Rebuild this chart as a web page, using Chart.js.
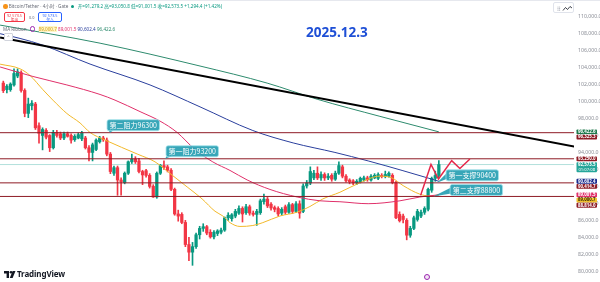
<!DOCTYPE html>
<html>
<head>
<meta charset="utf-8">
<script src="https://cdn.jsdelivr.net/npm/chart.js@4.4.1/dist/chart.umd.min.js"></script>
<style>
  html, body { margin: 0; padding: 0; background: #fff; }
  #wrap { position: relative; width: 600px; height: 282px; overflow: hidden;
          font-family: "Noto Sans", "Noto Sans CJK SC", sans-serif; }
  #c { position: absolute; left: 0; top: 0; }
  .t { position: absolute; white-space: nowrap; line-height: 1; }
  .btn { position: absolute; box-sizing: border-box; border-radius: 2px; background: #fff;
         text-align: center; font-size: 3.8px; line-height: 4.4px; padding-top: 0.6px; }
</style>
</head>
<body>
<div id="wrap">
  <canvas id="c" width="600" height="282"></canvas>

  <div style="position:absolute;left:0;top:0;width:600px;height:1px;background:#e6e8ee"></div>

  <div class="t" style="left:3px;top:3.5px;font-size:4.6px;color:#6a6d78">
    <span style="display:inline-block;width:4.5px;height:4.5px;border-radius:50%;background:#f7931a;vertical-align:-1px"></span>
    Bitcoin/Tether · 4小时 · Gate
    <span style="display:inline-block;width:3px;height:3px;border-radius:50%;background:#089981;margin:0 2px;vertical-align:0"></span>
    <span style="color:#089981">开=91,279.2 高=93,050.8 低=91,001.5 收=92,573.5 +1,294.4 (+1.42%)</span>
  </div>

  <div class="btn" style="left:4px;top:12px;width:21px;height:10px;border:0.7px solid #f23645;color:#f23645">92,573.5<br>卖出</div>
  <div class="t" style="left:29px;top:15.5px;font-size:3.8px;color:#6a6d78">0.0</div>
  <div class="btn" style="left:38px;top:12px;width:24px;height:10px;border:0.7px solid #2962ff;color:#2962ff">92,573.5<br>买入</div>

  <div class="t" style="left:3px;top:26px;font-size:4.6px;color:#6a6d78">MA Ribbon
    <span style="display:inline-block;width:3.6px;height:3.6px;border-radius:50%;border:0.8px solid #9c27b0;margin:0 2px;vertical-align:-0.5px"></span>
    <span style="color:#d4a017;background:#fff6c8">89,000.7</span>
    <span style="color:#e0306a">89,001.5</span>
    <span style="color:#2a3f9d">90,602.4</span>
    <span style="color:#2e8b6e">96,422.6</span>
  </div>
  <div style="position:absolute;left:4px;top:33px;width:7px;height:6px;border:0.6px solid #d1d4dc;border-radius:1px;background:#fff;font-size:4px;line-height:6px;text-align:center;color:#555">^</div>

  <div class="t" style="left:306px;top:26px;font-size:13.5px;font-weight:700;color:#1e4fd6">2025.12.3</div>

  <div style="position:absolute;left:553px;top:2px;width:21px;height:11px;box-sizing:border-box;border:0.6px solid #e0e3eb;border-radius:2px;background:#fff">
    <svg width="21" height="11" style="position:absolute;left:0;top:0">
      <g fill="#b2b5be"><circle cx="4" cy="4" r="0.6"/><circle cx="5.6" cy="4" r="0.6"/><circle cx="4" cy="5.6" r="0.6"/><circle cx="5.6" cy="5.6" r="0.6"/><circle cx="4" cy="7.2" r="0.6"/><circle cx="5.6" cy="7.2" r="0.6"/></g>
      <polyline points="9,7.5 11.5,4.5 13.5,6.5 16,3.5 18,5" fill="none" stroke="#131722" stroke-width="0.8"/>
    </svg>
  </div>

  <div style="position:absolute;left:4px;top:270px">
    <svg width="12" height="8" style="position:absolute;left:0;top:0.5px">
      <path d="M0 0 H5 V7 H2.6 V2.4 H0 Z" fill="#131722"/>
      <circle cx="7" cy="1.3" r="1.3" fill="#131722"/>
      <path d="M8.6 0 H11.5 L8.6 7 H5.8 Z" fill="#131722"/>
    </svg>
    <div class="t" style="left:13px;top:0;font-size:8px;font-weight:700;color:#131722;letter-spacing:-0.1px">TradingView</div>
  </div>

  <div style="position:absolute;left:424px;top:274px;width:6px;height:6px;box-sizing:border-box;border-radius:50%;border:0.8px solid #9c27b0;background:#f3e5f5"></div>
</div>

<script>
// ---- data ----
const opens = [
  102170, 101400, 101400, 101950, 103000, 103400, 101300, 98600, 99500, 99700,
  97150, 96000, 96600, 96000, 94550, 96350, 96200, 95700, 96200, 96000,
  95500, 95700, 95600, 95700, 94550, 94000, 94350, 95250, 95700, 95450,
  93800, 91550, 92200, 90750, 90450, 91550, 92900, 93200, 93000, 91750,
  91850, 91300, 90000, 88750, 91550, 92450, 92300, 91900, 89650, 86750,
  86700, 85750, 83150, 82250, 82900, 84300, 85050, 85250, 84600, 84050,
  84450, 84600, 84850, 86300, 86200, 86500, 86850, 87400, 86900, 87600,
  86850, 86700, 86900, 88200, 88500, 87900, 87500, 87400, 86850, 87600,
  86950, 87850, 87050, 87950, 87050, 90050, 90400, 91000, 91550, 91000,
  91400, 91000, 91300, 90850, 91550, 92300, 91200, 90750, 90650, 90400,
  90550, 90750, 91000, 90750, 91000, 90950, 91300, 91150, 91200, 91300,
  90450, 86700, 86500, 86000, 84250, 85050, 86100, 86500, 86950, 87300,
  89550, 90950, 91279.2
];
const highs = [
  102400, 102000, 102200, 103850, 103850, 103600, 101500, 100400, 100100, 99900,
  97500, 96900, 96800, 96100, 96600, 96600, 96400, 96400, 96400, 96200,
  96100, 96300, 96500, 95900, 94800, 95100, 95600, 95900, 95900, 95700,
  94000, 92400, 92400, 91000, 91700, 93000, 93800, 93500, 93300, 91900,
  92000, 91500, 90200, 91700, 92600, 93000, 92500, 92100, 89800, 87200,
  86900, 86000, 84000, 83400, 84500, 85300, 85600, 85400, 84900, 84800,
  84900, 85100, 86400, 86900, 86800, 87300, 87700, 87600, 87900, 87800,
  87100, 87300, 88500, 89100, 88700, 88100, 87700, 87600, 87500, 87800,
  88100, 88000, 88200, 88300, 90300, 90700, 92300, 91900, 92300, 91700,
  91600, 91500, 91500, 91800, 92900, 92500, 91400, 90900, 90800, 90800,
  91100, 91200, 91200, 91400, 91500, 91600, 91500, 91800, 91700, 91500,
  90600, 87000, 86750, 86200, 85300, 86500, 87300, 87200, 87600, 89800,
  91100, 91800, 93050.8
];
const lows = [
  101050, 101000, 101200, 101800, 102800, 101100, 98200, 98100, 99000, 96700,
  95100, 94300, 95600, 94100, 94400, 95800, 95500, 95500, 95800, 95100,
  95300, 95600, 95400, 94400, 93000, 93000, 94200, 95100, 95300, 93600,
  91500, 91300, 88950, 88950, 90300, 91400, 92700, 92700, 91600, 90200,
  91100, 89800, 88700, 88600, 91400, 92000, 91700, 89500, 86600, 85900,
  85600, 82900, 81250, 80700, 82700, 83800, 84700, 84300, 83900, 83800,
  84200, 84400, 84700, 86000, 85900, 86300, 86700, 85800, 86700, 86600,
  86500, 85400, 86700, 87900, 87500, 87200, 87000, 86500, 86600, 86700,
  86800, 86800, 86900, 86250, 86900, 89800, 90200, 90800, 90800, 90700,
  90700, 90800, 90600, 90700, 91400, 91000, 90500, 90300, 90200, 90200,
  90400, 90600, 90600, 90600, 90900, 90800, 91000, 91000, 91100, 90300,
  86200, 85800, 85700, 83700, 84000, 84900, 85900, 86300, 86700, 87100,
  89300, 90600, 91001.5
];
const closes = [
  101280, 101800, 102050, 103300, 103500, 101300, 98600, 99700, 99800, 96900,
  96250, 96700, 95800, 94550, 96350, 96000, 95700, 96200, 95900, 95450,
  95900, 96100, 96300, 94550, 94000, 94900, 95450, 95700, 95500, 93800,
  91750, 92200, 90750, 90550, 91550, 92900, 93200, 92900, 91750, 91350,
  91300, 90000, 88750, 91550, 92450, 92250, 91900, 89650, 86750, 86500,
  85750, 83150, 82250, 82900, 84300, 85050, 85250, 84500, 84050, 84600,
  84750, 84850, 86300, 86600, 86650, 87050, 87400, 86750, 87600, 86850,
  86700, 87050, 88300, 88500, 87700, 87450, 87300, 86750, 87300, 86950,
  87850, 87050, 87950, 86850, 90050, 90400, 91750, 91550, 91000, 91400,
  91000, 91200, 90850, 91550, 92450, 91200, 90650, 90550, 90400, 90600,
  90950, 91000, 90800, 91200, 91300, 91400, 91150, 91400, 91550, 90450,
  86300, 85950, 86100, 84250, 85050, 86300, 87050, 86950, 87400, 89650,
  90950, 91279.2, 92573.5
];

// MA Ribbon lines: [candle index, price]
const maFast = [
  [-0.9, 104400], [4.7, 103850], [7.5, 103060], [11.1, 101390], [13.9, 100160],
  [17.8, 98590], [21.5, 97470], [24.3, 96350], [28.5, 95460], [37.7, 93780],
  [42.5, 92890], [47.3, 91320], [51.7, 89870], [55.7, 88520], [59.3, 87070],
  [61.5, 86510], [63.5, 85730], [66.3, 85280], [69.9, 85390], [72.7, 85730],
  [77.5, 86510], [82.3, 86960], [85.9, 87630], [89.5, 88520], [94.3, 89310],
  [99.9, 90430], [105.5, 91210], [108.9, 90980], [112, 90090], [116.7, 89080],
  [119.5, 88860], [122, 89000.7]
];
const maMid = [
  [-0.9, 104070], [8.3, 102950], [17.8, 101950], [27.1, 100830], [31.3, 100160],
  [38.3, 98810], [43.9, 97690], [48.7, 96350], [53.7, 94340], [58.7, 92880],
  [63.5, 91880], [68.3, 90760], [74.7, 89640], [82.3, 88750], [88.7, 88300],
  [94.3, 88190], [102.2, 87960], [111.1, 88300], [116.7, 88750], [122, 89001.5]
];
const maSlow = [
  [-0.9, 107990], [4.7, 107430], [11.1, 106640], [24.3, 104410], [41.1, 101950],
  [55.1, 99370], [69.9, 96580], [81.2, 95120], [92.9, 94000], [102.2, 93000],
  [111.7, 91880], [119, 90980], [122, 90602.4]
];
const maLong = [
  [-0.9, 109000], [27.1, 106870], [55.1, 104180], [73.9, 102170], [87.9, 100270],
  [105.5, 98250], [122, 96422.6]
];

const trendLine = [[-0.9, 107540], [159.9, 94700]];
const levelPrices = [96325.3, 93250.0, 90414.7, 88814.0];
const lastPrice = 92573.5;
const lastTime = '01:07:08';
const zigzag = [[116.9, 88940], [119.8, 92580], [121.9, 90870], [125.6, 93030], [127.9, 92100], [130.7, 93220]];

const calloutTexts = ['第二阻力96300', '第一阻力93200', '第一支撑90400', '第二支撑88800'];
const calloutAnchors = [[29.9, 96325.3], [45.3, 93250.0], [121.5, 90414.7], [120.4, 88814.0]];

const badgeValues = [96422.6, 96325.3, 93250.0, 92573.5, 90602.4, 90414.7, 89001.5, 89000.7, 88814.0];
const tickValues = [80000, 82000, 84000, 86000, 88000, 90000, 92000, 94000, 96000, 98000,
                    100000, 102000, 104000, 106000, 108000, 110000];

// ---- styles ----
const UP = '#089981', DOWN = '#f23645', LEVEL = '#8e1b25';
const badgeColors = ['#1f7a4d', LEVEL, LEVEL, '#26a69a', '#1a2a8c', LEVEL, '#e0306a', '#f2c12e', LEVEL];
const badgeText = ['#fff', '#fff', '#fff', '#fff', '#fff', '#fff', '#fff', '#3a2e00', '#fff'];
const calloutOffsets = [[-3, -13], [1, -13], [9, -13], [17, -12]]; // box top-left vs anchor, px
const calloutSide = ['above', 'above', 'right', 'right'];

const fmt = v => v.toLocaleString('en-US', { minimumFractionDigits: 1, maximumFractionDigits: 1 });
const pts = arr => arr.map(([x, y]) => ({ x, y }));
const candleColors = closes.map((c, i) => c >= opens[i] ? UP : DOWN);

const xMin = -0.924, xMax = 159.86;

const datasets = [];
levelPrices.forEach(p => datasets.push({
  type: 'line', data: [{ x: xMin, y: p }, { x: xMax, y: p }],
  borderColor: LEVEL, borderWidth: 1, pointRadius: 0, order: 2
}));
datasets.push({
  type: 'line', data: [{ x: xMin, y: lastPrice }, { x: xMax, y: lastPrice }],
  borderColor: 'rgba(38,166,154,0.35)', borderWidth: 1, pointRadius: 0, order: 7
});
datasets.push({
  type: 'bar', data: opens.map((o, i) => ({ x: i, y: [lows[i], highs[i]] })),
  backgroundColor: candleColors, barThickness: 1, grouped: false, order: 6
});
datasets.push({
  type: 'bar', data: opens.map((o, i) => ({ x: i, y: [o, closes[i]] })),
  backgroundColor: candleColors, barThickness: 2.6, grouped: false, minBarLength: 0.8, order: 5
});
[[maLong, '#2e8b6e'], [maSlow, '#2a3f9d'], [maMid, '#e0306a'], [maFast, '#f2b92a']].forEach(([d, c]) => datasets.push({
  type: 'line', data: pts(d), borderColor: c, borderWidth: 1, pointRadius: 0,
  cubicInterpolationMode: 'monotone', order: 3
}));
datasets.push({
  type: 'line', data: pts(trendLine), borderColor: '#000', borderWidth: 2, pointRadius: 0, order: 1
});
datasets.push({
  type: 'line', data: pts(zigzag), borderColor: '#e5284a', borderWidth: 1.5, pointRadius: 0, order: 0
});

function roundRect(ctx, x, y, w, h, r) {
  ctx.beginPath();
  ctx.moveTo(x + r, y);
  ctx.arcTo(x + w, y, x + w, y + h, r);
  ctx.arcTo(x + w, y + h, x, y + h, r);
  ctx.arcTo(x, y + h, x, y, r);
  ctx.arcTo(x, y, x + w, y, r);
  ctx.closePath();
}

const overlay = {
  id: 'overlay',
  afterDatasetsDraw(chart) {
    const { ctx, scales: { x, y } } = chart;
    ctx.save();
    ctx.font = '7px "Noto Sans CJK SC", "Noto Sans", sans-serif';
    ctx.textBaseline = 'middle';
    calloutTexts.forEach((txt, k) => {
      const ax = x.getPixelForValue(calloutAnchors[k][0]);
      const ay = y.getPixelForValue(calloutAnchors[k][1]);
      const w = ctx.measureText(txt).width + 5, h = 11;
      const bx = ax + calloutOffsets[k][0], by = ay + calloutOffsets[k][1];
      ctx.fillStyle = 'rgba(38,158,178,0.92)';
      ctx.beginPath();
      if (calloutSide[k] === 'above') {
        ctx.moveTo(bx + 1, by + h - 1); ctx.lineTo(bx + 7, by + h - 1); ctx.lineTo(ax, ay);
      } else {
        ctx.moveTo(bx + 1, by + 3); ctx.lineTo(bx + 1, by + h - 2); ctx.lineTo(ax, ay);
      }
      ctx.closePath(); ctx.fill();
      roundRect(ctx, bx, by, w, h, 2);
      ctx.fill();
      ctx.strokeStyle = '#a6e3ec'; ctx.lineWidth = 0.8; ctx.stroke();
      ctx.fillStyle = '#fff';
      ctx.fillText(txt, bx + 2.5, by + h / 2 + 0.3);
    });
    ctx.restore();
  },
  afterDraw(chart) {
    const { ctx, scales: { y }, chartArea } = chart;
    ctx.save();
    const left = chartArea.right + 2.5, w = 20.5;
    let prevBottom = -Infinity;
    badgeValues.forEach((v, k) => {
      const tall = v === lastPrice;
      const h = tall ? 10 : 4.8;
      let top = y.getPixelForValue(v) - 2.4;
      if (top < prevBottom + 0.4) top = prevBottom + 0.4;
      prevBottom = top + h;
      ctx.fillStyle = badgeColors[k];
      roundRect(ctx, left, top, w, h, 0.8);
      ctx.fill();
      ctx.fillStyle = badgeText[k];
      ctx.font = 'bold 4.4px "Noto Sans", sans-serif';
      ctx.textAlign = 'center'; ctx.textBaseline = 'middle';
      ctx.fillText(fmt(v), left + w / 2, top + 2.5);
      if (tall) {
        ctx.font = '4.2px "Noto Sans", sans-serif';
        ctx.fillText(lastTime, left + w / 2, top + 7.4);
      }
    });
    ctx.restore();
  }
};

new Chart(document.getElementById('c'), {
  type: 'bar',
  data: { datasets },
  options: {
    responsive: false,
    animation: false,
    layout: { padding: 0 },
    plugins: { legend: { display: false }, tooltip: { enabled: false } },
    scales: {
      x: { type: 'linear', display: false, min: xMin, max: xMax, offset: false },
      y: {
        position: 'right', min: 79574, max: 111119,
        afterFit: s => { s.width = 26; },
        afterBuildTicks: s => { s.ticks = tickValues.map(value => ({ value })); },
        grid: { display: false, drawTicks: false },
        border: { display: false },
        ticks: {
          padding: 4, autoSkip: false,
          color: '#8a8d96', font: { size: 5.2, family: '"Noto Sans", sans-serif' },
          callback: v => fmt(v)
        }
      }
    }
  },
  plugins: [overlay]
});
</script>
</body>
</html>
